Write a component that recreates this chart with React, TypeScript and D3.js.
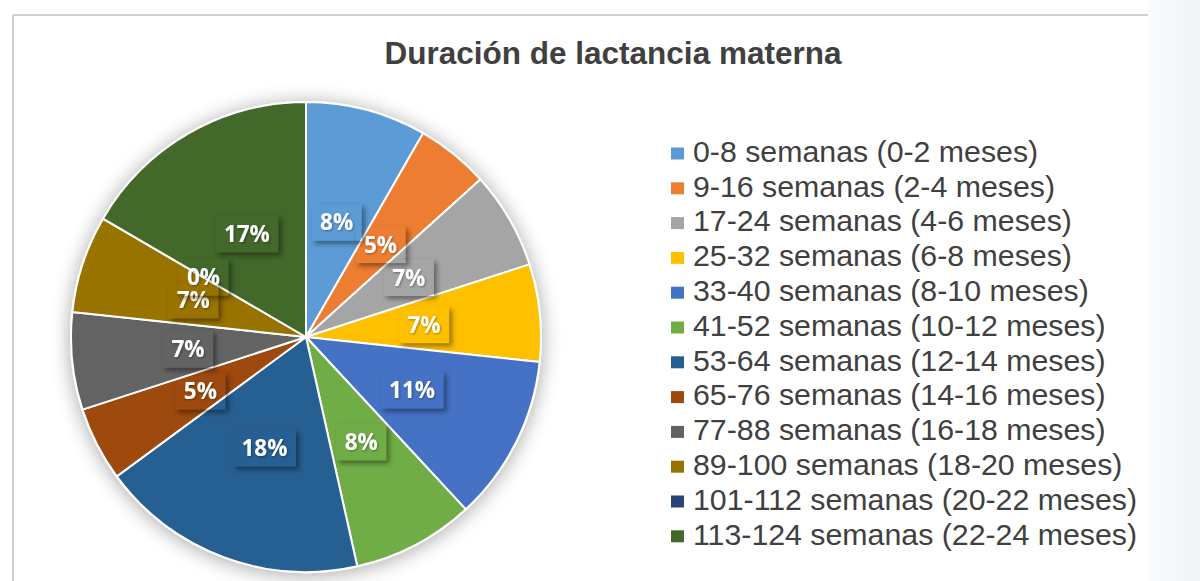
import React from "react";
import * as d3 from "d3";

const categories = [
  "0-8 semanas (0-2 meses)",
  "9-16 semanas (2-4 meses)",
  "17-24 semanas (4-6 meses)",
  "25-32 semanas (6-8 meses)",
  "33-40 semanas (8-10 meses)",
  "41-52 semanas (10-12 meses)",
  "53-64 semanas (12-14 meses)",
  "65-76 semanas (14-16 meses)",
  "77-88 semanas (16-18 meses)",
  "89-100 semanas (18-20 meses)",
  "101-112 semanas (20-22 meses)",
  "113-124 semanas (22-24 meses)",
];
const values = [8.3, 5.0, 6.7, 6.7, 11.4, 8.4, 18.4, 5.1, 6.7, 6.7, 0, 16.6];
const colors = [
  "#5B9BD5", "#ED7D31", "#A5A5A5", "#FFC000", "#4472C4", "#70AD47",
  "#255E91", "#9E480E", "#636363", "#997300", "#264478", "#43682B",
];
const title = "Duración de lactancia materna";

const W = 1200;
const H = 581;
const cx = 306;
const cy = 337;
const R = 235;
const LABEL_FS = 22.5;

function boxWidth(txt: string) {
  const digits = txt.length - 1;
  return LABEL_FS * (0.572 * digits + 0.87) + 18;
}

export default function App() {
  const total = d3.sum(values);
  const pie = d3.pie<number>().sort(null).value((d) => d).startAngle(0).endAngle(2 * Math.PI);
  const arcs = pie(values);
  const arc = d3.arc<d3.PieArcDatum<number>>().innerRadius(0).outerRadius(R);
  const labelArc = d3.arc<d3.PieArcDatum<number>>().innerRadius(R * 0.505).outerRadius(R * 0.505);
  const fmt = d3.format(".0%");
  const bh = 37;

  const legendX = 671;
  const legendY0 = 147.5;
  const legendStep = 34.8;

  return (
    <svg
      width={W}
      height={H}
      style={{ position: "absolute", left: 0, top: 0, background: "#fff" }}
    >
      <defs>
        <filter id="pieShadow" x="-20%" y="-20%" width="140%" height="140%">
          <feGaussianBlur in="SourceAlpha" stdDeviation="10" />
          <feOffset dx="0" dy="2" result="b" />
          <feComponentTransfer>
            <feFuncA type="linear" slope="0.35" />
          </feComponentTransfer>
          <feMerge>
            <feMergeNode />
            <feMergeNode in="SourceGraphic" />
          </feMerge>
        </filter>
        <filter id="boxShadow" x="-50%" y="-50%" width="200%" height="200%">
          <feGaussianBlur stdDeviation="2.6" />
        </filter>
        <filter id="textShadow" x="-20%" y="-20%" width="140%" height="140%">
          <feDropShadow dx="1" dy="1" stdDeviation="0.8" floodColor="#000" floodOpacity="0.35" />
        </filter>
        <linearGradient id="rightBg" x1="0" x2="1" y1="0" y2="0">
          <stop offset="0" stopColor="#fafbfc" />
          <stop offset="1" stopColor="#f1f4f8" />
        </linearGradient>
        {arcs.map((a, i) => {
          const [lx, ly] = labelArc.centroid(a);
          const bw = boxWidth(fmt(a.data / total));
          return (
            <mask id={`m${i}`} key={i} maskUnits="userSpaceOnUse" x={-W} y={-H} width={3 * W} height={3 * H}>
              <rect x={-W} y={-H} width={3 * W} height={3 * H} fill="#fff" />
              <rect x={lx - bw / 2} y={ly - bh / 2} width={bw} height={bh} fill="#000" />
            </mask>
          );
        })}
      </defs>

      {/* right background strip */}
      <rect x={1148} y={0} width={52} height={H} fill="url(#rightBg)" />

      {/* chart border */}
      <line x1={13} y1={15} x2={1148} y2={15} stroke="#c0c0c0" strokeWidth={1.5} />
      <line x1={13} y1={15} x2={13} y2={H} stroke="#c0c0c0" strokeWidth={1.5} />

      <text
        x={613}
        y={64}
        textAnchor="middle"
        fontFamily="'Liberation Sans', Arial, sans-serif"
        fontWeight="bold"
        fontSize={31.5}
        fill="#404040"
      >
        {title}
      </text>

      <g transform={`translate(${cx},${cy})`}>
        <g filter="url(#pieShadow)">
          {arcs.map((a, i) => (
            <path key={i} d={arc(a) || ""} fill={colors[i]} stroke="#fff" strokeWidth={2} strokeLinejoin="round" />
          ))}
        </g>
      </g>

      <g transform={`translate(${cx},${cy})`}>
        {arcs.map((a, i) => {
          const [lx, ly] = labelArc.centroid(a);
          const txt = fmt(a.data / total);
          const bw = boxWidth(txt);
          return (
            <g key={i}>
              <g mask={`url(#m${i})`}>
                <rect
                  x={lx - bw / 2 + 3}
                  y={ly - bh / 2 + 3}
                  width={bw}
                  height={bh}
                  fill="#000"
                  opacity={0.4}
                  filter="url(#boxShadow)"
                />
              </g>
              <text
                x={lx}
                y={ly}
                dy="0.36em"
                textAnchor="middle"
                fontFamily="'Open Sans', Lato, sans-serif"
                fontWeight="bold"
                fontSize={LABEL_FS}
                fill="#fff"
                filter="url(#textShadow)"
              >
                {txt}
              </text>
            </g>
          );
        })}
      </g>

      <g>
        {categories.map((c, i) => (
          <g key={c} transform={`translate(${legendX},${legendY0 + i * legendStep})`}>
            <rect x={0} y={0} width={13} height={12} fill={colors[i]} />
            <text
              x={22}
              y={14.2}
              fontFamily="'Liberation Sans', Arial, sans-serif"
              fontSize={30.3}
              fill="#404040"
            >
              {c}
            </text>
          </g>
        ))}
      </g>
    </svg>
  );
}
